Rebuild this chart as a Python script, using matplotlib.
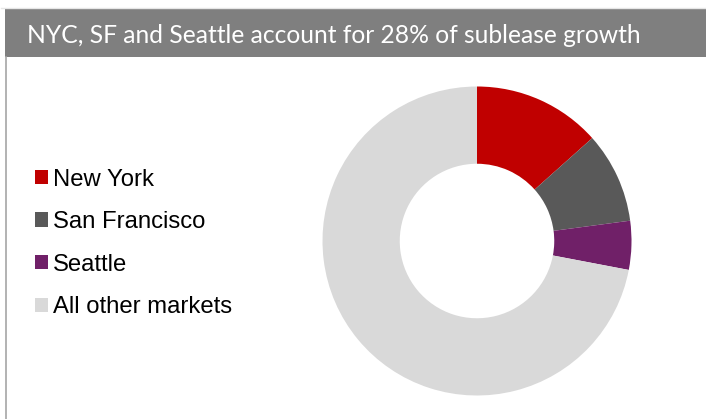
import matplotlib
matplotlib.use('Agg')
import matplotlib.pyplot as plt
from matplotlib.patches import Rectangle
from matplotlib.lines import Line2D

title = "NYC, SF and Seattle account for 28% of sublease growth"
markets = ['New York', 'San Francisco', 'Seattle', 'All other markets']
shares = [13.4, 9.5, 5.1, 72.0]
colors = ['#C00000', '#595959', '#702068', '#D9D9D9']

W, H = 706, 419
fig = plt.figure(figsize=(W / 100, H / 100), dpi=100)
fig.patch.set_facecolor('white')

# title bar + left frame line
fig.add_artist(Rectangle((5 / W, 1 - 57 / H), 1, 49 / H, transform=fig.transFigure,
                         facecolor='#7F7F7F', edgecolor='none'))
fig.add_artist(Line2D([1 / W, 1], [1 - 8 / H, 1 - 8 / H], transform=fig.transFigure,
                      color='#E6E6E6', linewidth=1))
fig.add_artist(Line2D([6 / W, 6 / W], [0, 1 - 57 / H], transform=fig.transFigure,
                      color='#A6A6A6', linewidth=1.2))
fig.text(27 / W, 1 - 43 / H, title, color='white', fontsize=17.7,
         family=['Lato', 'DejaVu Sans'], va='baseline', ha='left')

# donut
cx, cy, r = 477, 419 - 241, 154.5
ax = fig.add_axes([(cx - r) / W, (cy - r) / H, 2 * r / W, 2 * r / H])
wedges, _ = ax.pie(shares, colors=colors, startangle=90, counterclock=False,
                   radius=1, wedgeprops=dict(width=0.5, linewidth=0))
ax.set_xlim(-1, 1)
ax.set_ylim(-1, 1)
ax.set_aspect('equal')
ax.axis('off')

leg = fig.legend(wedges, markets, loc='upper left', bbox_to_anchor=(25 / W, 1 - 159 / H),
                 frameon=False, prop={'family': ['Liberation Sans', 'DejaVu Sans'], 'size': 17.2},
                 handlelength=0.55, handleheight=0.55, handletextpad=0.22,
                 labelspacing=0.86, borderaxespad=0)

fig.savefig('out.png', dpi=100)
